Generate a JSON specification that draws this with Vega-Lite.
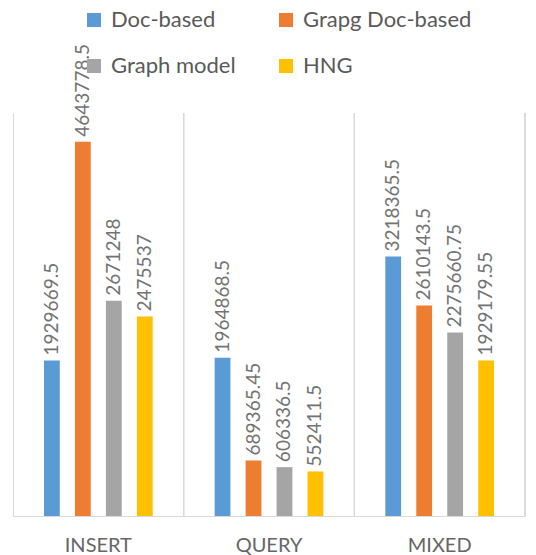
{
  "$schema": "https://vega.github.io/schema/vega-lite/v6.json",
  "width": 512,
  "height": 403,
  "autosize": {"type": "none"},
  "padding": {"left": 13, "top": 113, "right": 11, "bottom": 39},
  "background": "white",
  "config": {"view": {"stroke": null}, "font": "Lato"},
  "data": {
    "values": [
      {"op": "INSERT", "series": "Doc-based", "v": 1929669.5},
      {"op": "INSERT", "series": "Grapg Doc-based", "v": 4643778.5},
      {"op": "INSERT", "series": "Graph model", "v": 2671248},
      {"op": "INSERT", "series": "HNG", "v": 2475537},
      {"op": "QUERY", "series": "Doc-based", "v": 1964868.5},
      {"op": "QUERY", "series": "Grapg Doc-based", "v": 689365.45},
      {"op": "QUERY", "series": "Graph model", "v": 606336.5},
      {"op": "QUERY", "series": "HNG", "v": 552411.5},
      {"op": "MIXED", "series": "Doc-based", "v": 3218365.5},
      {"op": "MIXED", "series": "Grapg Doc-based", "v": 2610143.5},
      {"op": "MIXED", "series": "Graph model", "v": 2275660.75},
      {"op": "MIXED", "series": "HNG", "v": 1929179.55}
    ]
  },
  "encoding": {
    "x": {
      "field": "op", "type": "nominal", "sort": ["INSERT", "QUERY", "MIXED"],
      "scale": {"paddingInner": 0, "paddingOuter": 0},
      "axis": {"title": null, "labelAngle": 0, "grid": true, "bandPosition": 0, "gridColor": "#d9d9d9",
               "ticks": false, "domainColor": "#d9d9d9", "labelFontSize": 20, "labelColor": "#666666",
               "labelPadding": 19, "labelFont": "Lato"}
    }
  },
  "layer": [
    {
      "mark": {"type": "rule", "color": "#d9d9d9"},
      "encoding": {
        "x": {
          "field": "op", "type": "nominal", "sort": ["INSERT", "QUERY", "MIXED"], "bandPosition": 1,
          "scale": {"paddingInner": 0, "paddingOuter": 0},
          "axis": {"title": null, "labelAngle": 0, "grid": true, "bandPosition": 0, "gridColor": "#d9d9d9",
                   "ticks": false, "domainColor": "#d9d9d9", "labelFontSize": 20, "labelColor": "#666666",
                   "labelPadding": 19, "labelFont": "Lato"}
        }
      }
    },
    {
      "mark": {"type": "bar"},
      "encoding": {
        "xOffset": {"field": "series", "type": "nominal",
                    "sort": ["Doc-based", "Grapg Doc-based", "Graph model", "HNG"],
                    "scale": {"paddingInner": 0.49, "paddingOuter": 1.14}},
        "y": {"field": "v", "type": "quantitative", "scale": {"domain": [0, 5000000]}, "axis": null},
        "color": {
          "field": "series", "type": "nominal",
          "scale": {"domain": ["Doc-based", "Grapg Doc-based", "Graph model", "HNG"],
                    "range": ["#5B9BD5", "#ED7D31", "#A5A5A5", "#FFC000"]},
          "legend": {
            "title": null, "orient": "none", "legendX": 70, "legendY": -104, "columns": 2,
            "values": ["Doc-based", "Graph model", "Grapg Doc-based", "HNG"],
            "symbolType": "square", "symbolSize": 196, "symbolStrokeWidth": 0, "labelFontSize": 22,
            "labelColor": "#595959", "labelOffset": 6, "columnPadding": 39, "rowPadding": 24,
            "padding": 0, "labelFont": "Lato", "labelLimit": 300
          }
        }
      }
    },
    {
      "mark": {"type": "text", "angle": -90, "align": "left", "baseline": "middle", "dx": 5,
               "fontSize": 19, "color": "#737373", "font": "Lato"},
      "encoding": {
        "xOffset": {"field": "series", "type": "nominal",
                    "sort": ["Doc-based", "Grapg Doc-based", "Graph model", "HNG"],
                    "scale": {"paddingInner": 0.49, "paddingOuter": 1.14}},
        "y": {"field": "v", "type": "quantitative", "scale": {"domain": [0, 5000000]}, "axis": null},
        "text": {"field": "v", "type": "quantitative", "format": ".12~g"}
      }
    }
  ]
}
